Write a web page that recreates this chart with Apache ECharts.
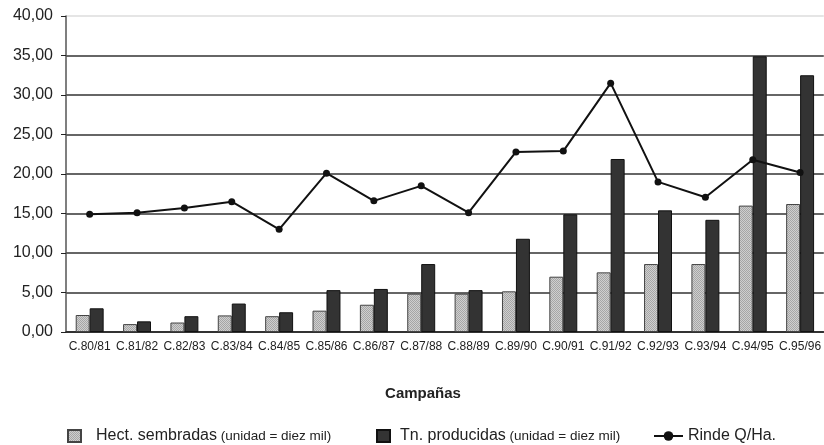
<!DOCTYPE html>
<html>
<head>
<meta charset="utf-8">
<script src="https://cdn.jsdelivr.net/npm/echarts@6/dist/echarts.min.js"></script>
<style>
  html, body { margin: 0; padding: 0; background: #fff; }
  #main { width: 824px; height: 445px; }
</style>
</head>
<body>
<div id="main"></div>
<script>
// campañas
var campanas = ['C.80/81', 'C.81/82', 'C.82/83', 'C.83/84', 'C.84/85', 'C.85/86', 'C.86/87', 'C.87/88',
    'C.88/89', 'C.89/90', 'C.90/91', 'C.91/92', 'C.92/93', 'C.93/94', 'C.94/95', 'C.95/96'];

// hectareas sembradas (unidad = diez mil)
var hectareas = [2.15, 1.0, 1.2, 2.1, 2.0, 2.7, 3.45, 4.85, 4.85, 5.15, 7.0, 7.55, 8.6, 8.6, 16.0, 16.2];
// toneladas producidas (unidad = diez mil)
var toneladas = [3.0, 1.35, 2.0, 3.6, 2.5, 5.3, 5.45, 8.6, 5.3, 11.8, 14.9, 21.9, 15.4, 14.2, 34.9, 32.5];
// rinde Q/Ha
var rinde = [14.9, 15.1, 15.7, 16.5, 13.0, 20.1, 16.6, 18.5, 15.1, 22.8, 22.9, 31.5, 19.0, 17.05, 21.8, 20.2];

var fuente = '"Liberation Sans", Arial, sans-serif';

var myChart = echarts.init(document.getElementById('main'));

function coma(v) {
    return v.toFixed(2).replace('.', ',');
}

// trama punteada de las barras claras
var trama = document.createElement('canvas');
trama.width = 2;
trama.height = 2;
var tctx = trama.getContext('2d');
tctx.fillStyle = '#cfcfcf';
tctx.fillRect(0, 0, 2, 2);
tctx.fillStyle = '#a6a6a6';
tctx.fillRect(0, 0, 1, 1);
tctx.fillRect(1, 1, 1, 1);

function leyenda(a, b, pad) {
    return {
        a: { fontSize: 16, color: '#222', fontFamily: fuente, padding: [0, 0, 0, pad] },
        b: { fontSize: 13.5, color: '#222', fontFamily: fuente }
    };
}

var option = {
    backgroundColor: '#fff',
    animation: false,
    textStyle: { fontFamily: fuente },
    title: {
        text: 'Campañas',
        left: 423,
        top: 386,
        textAlign: 'center',
        padding: 0,
        textStyle: { fontFamily: fuente, fontSize: 15, fontWeight: 'bold', color: '#222' }
    },
    legend: [
        {
            data: [{ name: 'Hect. sembradas', icon: 'rect' }],
            left: 67, top: 428, padding: 0,
            itemWidth: 13, itemHeight: 12,
            formatter: '{a|Hect. sembradas}{b| (unidad = diez mil)}',
            textStyle: { rich: leyenda('', '', 10) }
        },
        {
            data: [{ name: 'Tn. producidas', icon: 'rect' }],
            left: 376, top: 428, padding: 0,
            itemWidth: 13, itemHeight: 12,
            formatter: '{a|Tn. producidas}{b| (unidad = diez mil)}',
            textStyle: { rich: leyenda('', '', 5) }
        },
        {
            data: ['Rinde Q/Ha.'],
            left: 653, top: 428, padding: 0,
            itemWidth: 29, itemHeight: 12,
            textStyle: { fontSize: 16, color: '#222', fontFamily: fuente }
        }
    ],
    grid: { left: 66, top: 16, width: 762, bottom: 113 },
    xAxis: {
        type: 'category',
        data: campanas,
        axisLine: { lineStyle: { color: '#222', width: 1.5 } },
        axisTick: { length: 5, lineStyle: { color: '#222' } },
        axisLabel: { fontSize: 12, color: '#222', margin: 9, interval: 0, fontFamily: fuente }
    },
    yAxis: {
        type: 'value',
        min: 0,
        max: 40,
        interval: 5,
        axisLine: { show: true, lineStyle: { color: '#555', width: 1.5 } },
        axisTick: { show: true, length: 5, lineStyle: { color: '#222' } },
        axisLabel: { fontSize: 16, color: '#222', margin: 13, formatter: coma, fontFamily: fuente },
        splitLine: {
            lineStyle: {
                color: ['#333', '#333', '#333', '#333', '#333', '#333', '#333', '#333', '#ddd'],
                width: 1.5
            }
        }
    },
    series: [
        {
            name: 'Hect. sembradas',
            type: 'bar',
            data: hectareas,
            barGap: '0%',
            barCategoryGap: '41%',
            itemStyle: { color: { image: trama, repeat: 'repeat' }, borderColor: '#444', borderWidth: 1 }
        },
        {
            name: 'Tn. producidas',
            type: 'bar',
            data: toneladas,
            itemStyle: { color: '#333', borderColor: '#111', borderWidth: 1 }
        },
        {
            name: 'Rinde Q/Ha.',
            type: 'line',
            data: rinde,
            symbol: 'circle',
            symbolSize: 7,
            lineStyle: { color: '#111', width: 2 },
            itemStyle: { color: '#111' },
            z: 5
        }
    ]
};

myChart.setOption(option);
</script>
</body>
</html>
